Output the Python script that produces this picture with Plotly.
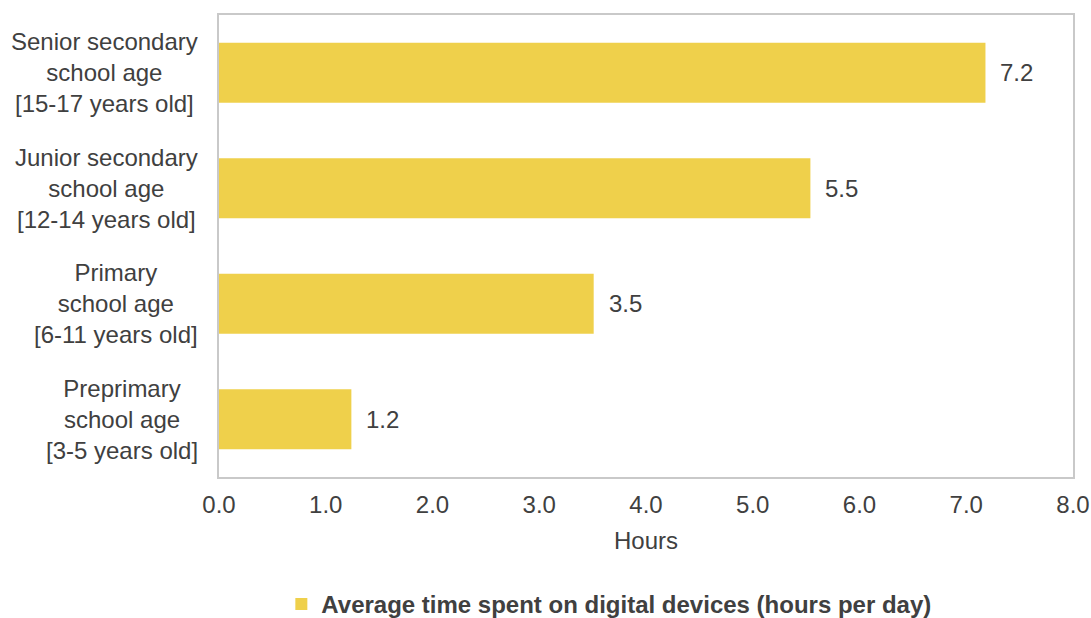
import plotly.graph_objects as go

categories = [
    "Preprimary<br>school age<br>[3-5 years old]",
    "Primary<br>school age<br>[6-11 years old]",
    "Junior secondary<br>school age<br>[12-14 years old]",
    "Senior secondary<br>school age<br>[15-17 years old]",
]
values = [1.24, 3.51, 5.54, 7.18]
series_name = "Average time spent on digital devices (hours per day)"
x_ticks = [0, 1, 2, 3, 4, 5, 6, 7, 8]

BAR = "#EFD04B"
TXT = "#404040"
FONT = "Liberation Sans, Arial, sans-serif"
FS = 24

fig = go.Figure()
fig.add_trace(go.Bar(
    x=values, y=categories, orientation="h",
    marker=dict(color=BAR, line=dict(width=0)),
    name=series_name, showlegend=True,
))

annotations = []
for c, v in zip(categories, values):
    annotations.append(dict(
        x=v, y=c, xref="x", yref="y", text=f"{v:.1f}",
        showarrow=False, xanchor="left", xshift=13,
        font=dict(size=FS, color=TXT, family=FONT),
    ))
    annotations.append(dict(
        x=0, y=c, xref="paper", yref="y", text=c,
        showarrow=False, xanchor="right", xshift=-19, align="center",
        font=dict(size=FS, color=TXT, family=FONT),
    ))

fig.update_layout(
    width=1091, height=618,
    margin=dict(l=219, r=18, t=15, b=141, autoexpand=False),
    paper_bgcolor="white", plot_bgcolor="white",
    font=dict(family=FONT, size=FS, color=TXT),
    bargap=0.48,
    annotations=annotations,
    xaxis=dict(
        range=[0, 8], tickvals=x_ticks, tickformat=".1f",
        showgrid=False, zeroline=False, automargin=False,
        showline=True, linecolor="#C9C9C9", linewidth=2, mirror=True,
        ticks="", ticklabelstandoff=5,
        title=dict(text="Hours", font=dict(size=FS, color=TXT), standoff=15),
        tickfont=dict(size=FS, color=TXT),
    ),
    yaxis=dict(
        showticklabels=False, showgrid=False, zeroline=False, automargin=False,
        showline=True, linecolor="#C9C9C9", linewidth=2, mirror=True,
        ticks="",
    ),
    legend=dict(
        orientation="h", x=0.073, xanchor="left", y=-0.227, yanchor="top",
        font=dict(size=FS, color=TXT, weight="bold"),
        itemwidth=30,
    ),
)

fig.write_html("out.html")
